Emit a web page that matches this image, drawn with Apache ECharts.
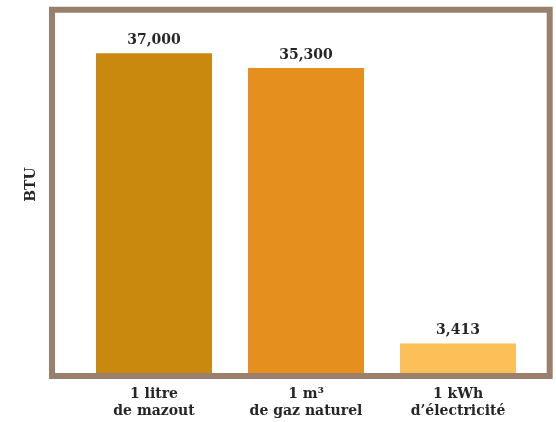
<!DOCTYPE html>
<html>
<head>
<meta charset="utf-8">
<script src="https://cdn.jsdelivr.net/npm/echarts@6/dist/echarts.min.js"></script>
<style>html,body{margin:0;padding:0;background:#fff}#c{width:556px;height:422px}</style>
</head>
<body>
<div id="c"></div>
<script>
const categories = ["1 litre\nde mazout", "1 m³\nde gaz naturel", "1 kWh\nd’électricité"];
const values = [37000, 35300, 3413];
const barColors = ["#C9880E", "#E58F1E", "#FDBF57"];
const axisName = "BTU";

const font = "DejaVu Serif";
const chart = echarts.init(document.getElementById('c'));
chart.setOption({
  animation: false,
  backgroundColor: '#fff',
  grid: { left: 78, right: 22, top: 10, bottom: 49 },
  xAxis: {
    type: 'category',
    data: categories,
    axisLine: { show: false },
    axisTick: { show: false },
    axisLabel: {
      margin: 13,
      color: '#262626',
      fontFamily: font,
      fontWeight: 'bold',
      fontSize: 14,
      lineHeight: 17
    }
  },
  yAxis: {
    type: 'value',
    min: 0,
    max: 42000,
    name: axisName,
    nameLocation: 'middle',
    nameGap: 40,
    nameRotate: 90,
    nameTextStyle: { color: '#262626', fontFamily: font, fontWeight: 'bold', fontSize: 14, padding: [0, 0, 0, 14] },
    axisLine: { show: false },
    axisTick: { show: false },
    axisLabel: { show: false },
    splitLine: { show: false }
  },
  series: [{
    type: 'bar',
    barWidth: 116,
    data: values.map((v, i) => ({ value: v, itemStyle: { color: barColors[i] } })),
    label: {
      show: true,
      position: 'top',
      distance: 6,
      color: '#262626',
      fontFamily: font,
      fontWeight: 'bold',
      fontSize: 14,
      formatter: p => p.value.toLocaleString('en-US')
    }
  }],
  graphic: [{
    type: 'rect',
    z: 100,
    shape: { x: 52, y: 9.7, width: 497.7, height: 366.3 },
    style: { fill: 'none', stroke: '#9A7F6C', lineWidth: 6 }
  }]
});
</script>
</body>
</html>
